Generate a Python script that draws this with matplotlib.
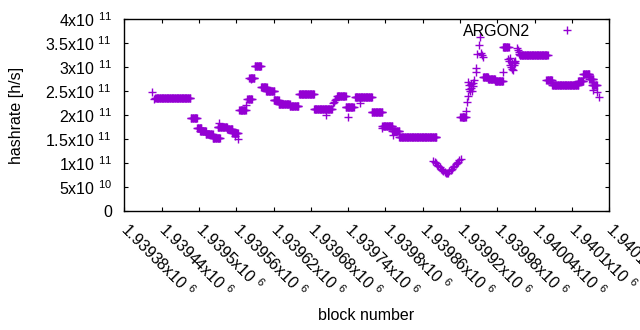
import numpy as np
import matplotlib
matplotlib.use("Agg")
import matplotlib.pyplot as plt
from matplotlib.ticker import FixedLocator, FixedFormatter

plt.rcParams['font.family'] = ['Liberation Sans', 'DejaVu Sans']
plt.rcParams['mathtext.fontset'] = 'custom'
plt.rcParams['mathtext.rm'] = 'Liberation Sans'
plt.rcParams['mathtext.it'] = 'Liberation Sans'
plt.rcParams['mathtext.default'] = 'regular'

COLOR = '#9400d3'
FS = 11.5

# Plateaus: first block, last block, hashrate (x1e11 h/s)
plateau_start = [1939430, 1939487, 1939497, 1939502, 1939511, 1939522, 1939530, 1939545,
                 1939554, 1939565, 1939578, 1939581, 1939590, 1939600, 1939608, 1939620,
                 1939628, 1939646, 1939661, 1939685, 1939705, 1939722, 1939736, 1939751,
                 1939778, 1939795, 1939811, 1939822, 1939922, 1939957, 1939965, 1939976,
                 1939989, 1940016, 1940059, 1940068, 1940110, 1940118, 1940128, 1940132]
plateau_end = [1939486, 1939497, 1939504, 1939511, 1939522, 1939534, 1939545, 1939554,
               1939563, 1939575, 1939585, 1939589, 1939600, 1939609, 1939621, 1939628,
               1939646, 1939660, 1939685, 1939704, 1939714, 1939736, 1939749, 1939778,
               1939795, 1939811, 1939822, 1939882, 1939929, 1939965, 1939976, 1939989,
               1939998, 1940061, 1940068, 1940110, 1940118, 1940128, 1940134, 1940140]
plateau_value = [2.36, 1.93, 1.73, 1.67, 1.61, 1.53, 1.74, 1.70,
                 1.63, 2.10, 2.33, 2.78, 3.03, 2.58, 2.51, 2.31,
                 2.22, 2.18, 2.43, 2.13, 2.12, 2.39, 2.16, 2.37,
                 2.06, 1.77, 1.66, 1.54, 1.95, 2.80, 2.75, 2.71,
                 3.42, 3.24, 2.73, 2.62, 2.70, 2.86, 2.74, 2.63]

# Individual blocks: block number, hashrate (x1e11 h/s)
single_block = [1939425, 1939428, 1939533, 1939558, 1939563, 1939575, 1939583,
                1939704, 1939715, 1939717, 1939719, 1939721, 1939740, 1939759,
                1939795, 1939812,
                1939877, 1939879, 1939881, 1939883, 1939885, 1939887, 1939889, 1939891,
                1939893, 1939895, 1939897, 1939899, 1939901, 1939903, 1939905, 1939907,
                1939909, 1939911, 1939913, 1939915, 1939917, 1939919, 1939921,
                1939920, 1939924, 1939929, 1939931, 1939932, 1939933, 1939934, 1939935,
                1939936, 1939937, 1939938, 1939939, 1939940, 1939941, 1939943, 1939945,
                1939946, 1939948, 1939950, 1939952, 1939954, 1939955, 1939957,
                1939989, 1939997, 1939999, 1940000, 1940001, 1940002, 1940003, 1940004,
                1940005, 1940006, 1940007, 1940008, 1940009, 1940011, 1940013, 1940014,
                1940015, 1940134, 1940141, 1940144]
single_value = [2.47, 2.33, 1.83, 1.56, 1.51, 2.21, 2.75,
                2.01, 2.24, 2.28, 2.32, 2.34, 1.96, 2.24,
                1.72, 1.58,
                1.05, 1.02, 0.99, 0.96, 0.94, 0.91, 0.88, 0.86,
                0.84, 0.82, 0.80, 0.79, 0.80, 0.83, 0.85, 0.88,
                0.91, 0.94, 0.97, 1.00, 1.03, 1.07, 1.09,
                1.96, 1.95, 2.08, 2.28, 2.40, 2.69, 2.62, 2.55,
                2.50, 2.56, 2.64, 2.49, 2.60, 2.66, 2.73, 2.97,
                2.90, 3.28, 3.46, 3.63, 3.30, 3.25, 3.21,
                2.90, 3.16, 3.12, 3.05, 3.18, 3.00, 3.08, 2.96,
                2.94, 3.04, 3.10, 3.08, 3.12, 3.39, 3.35, 3.32,
                3.28, 2.52, 2.48, 2.37]

xtick_pos = [1939380, 1939440, 1939500, 1939560, 1939620, 1939680, 1939740,
             1939800, 1939860, 1939920, 1939980, 1940040, 1940100, 1940160]
xtick_text = ['1.93938', '1.93944', '1.9395', '1.93956', '1.93962', '1.93968', '1.93974',
              '1.9398', '1.93986', '1.93992', '1.93998', '1.94004', '1.9401', '1.94016']
ytick_pos = [0, 0.5e11, 1e11, 1.5e11, 2e11, 2.5e11, 3e11, 3.5e11, 4e11]
ytick_text = ['0', '5x10 $^{10}$', '1x10 $^{11}$', '1.5x10 $^{11}$', '2x10 $^{11}$',
              '2.5x10 $^{11}$', '3x10 $^{11}$', '3.5x10 $^{11}$', '4x10 $^{11}$']

xs, ys = [], []
for s, e, v in zip(plateau_start, plateau_end, plateau_value):
    blocks = np.arange(s, e + 1)
    xs.append(blocks)
    ys.append(np.full(len(blocks), v * 1e11))
xs.append(np.array(single_block))
ys.append(np.array(single_value) * 1e11)
x = np.concatenate(xs)
y = np.concatenate(ys)

fig = plt.figure(figsize=(6.4, 3.3), dpi=100)
L, R, T, B = 124.3, 609.3, 19, 211
ax = fig.add_axes([L / 640, 1 - B / 330, (R - L) / 640, (B - T) / 330])
ax.plot(x, y, ls='none', marker='+', ms=5.2, mew=1.0, color=COLOR, label='ARGON2')

ax.set_xlim(xtick_pos[0], xtick_pos[-1])
ax.set_ylim(0, 4e11)
ax.xaxis.set_major_locator(FixedLocator(xtick_pos))
ax.xaxis.set_major_formatter(FixedFormatter([t + 'x10 $^{6}$' for t in xtick_text]))
ax.yaxis.set_major_locator(FixedLocator(ytick_pos))
ax.yaxis.set_major_formatter(FixedFormatter(ytick_text))
ax.tick_params(direction='in', length=3.1, width=0.8, top=True, right=True,
               labelsize=FS, colors='black')
ax.tick_params(axis='y', pad=9)
ax.tick_params(axis='x', pad=11)
for lab in ax.get_xticklabels():
    lab.set_rotation(-45)
    lab.set_rotation_mode('anchor')
    lab.set_ha('left')
    lab.set_va('center')
for sp in ax.spines.values():
    sp.set_linewidth(1.0)

fig.text(17 / 640, 1 - 115 / 330, 'hashrate [h/s]', rotation=90, ha='center', va='center', fontsize=FS)
fig.text(366 / 640, 1 - 316 / 330, 'block number', ha='center', va='center', fontsize=FS)

ax.legend(loc='center right', bbox_to_anchor=(581 / 640, 1 - 31.5 / 330),
          bbox_transform=fig.transFigure, frameon=False, markerfirst=False,
          handlelength=1.8, handletextpad=1.4, borderpad=0, borderaxespad=0, fontsize=FS)

fig.savefig('out.png', dpi=100)
